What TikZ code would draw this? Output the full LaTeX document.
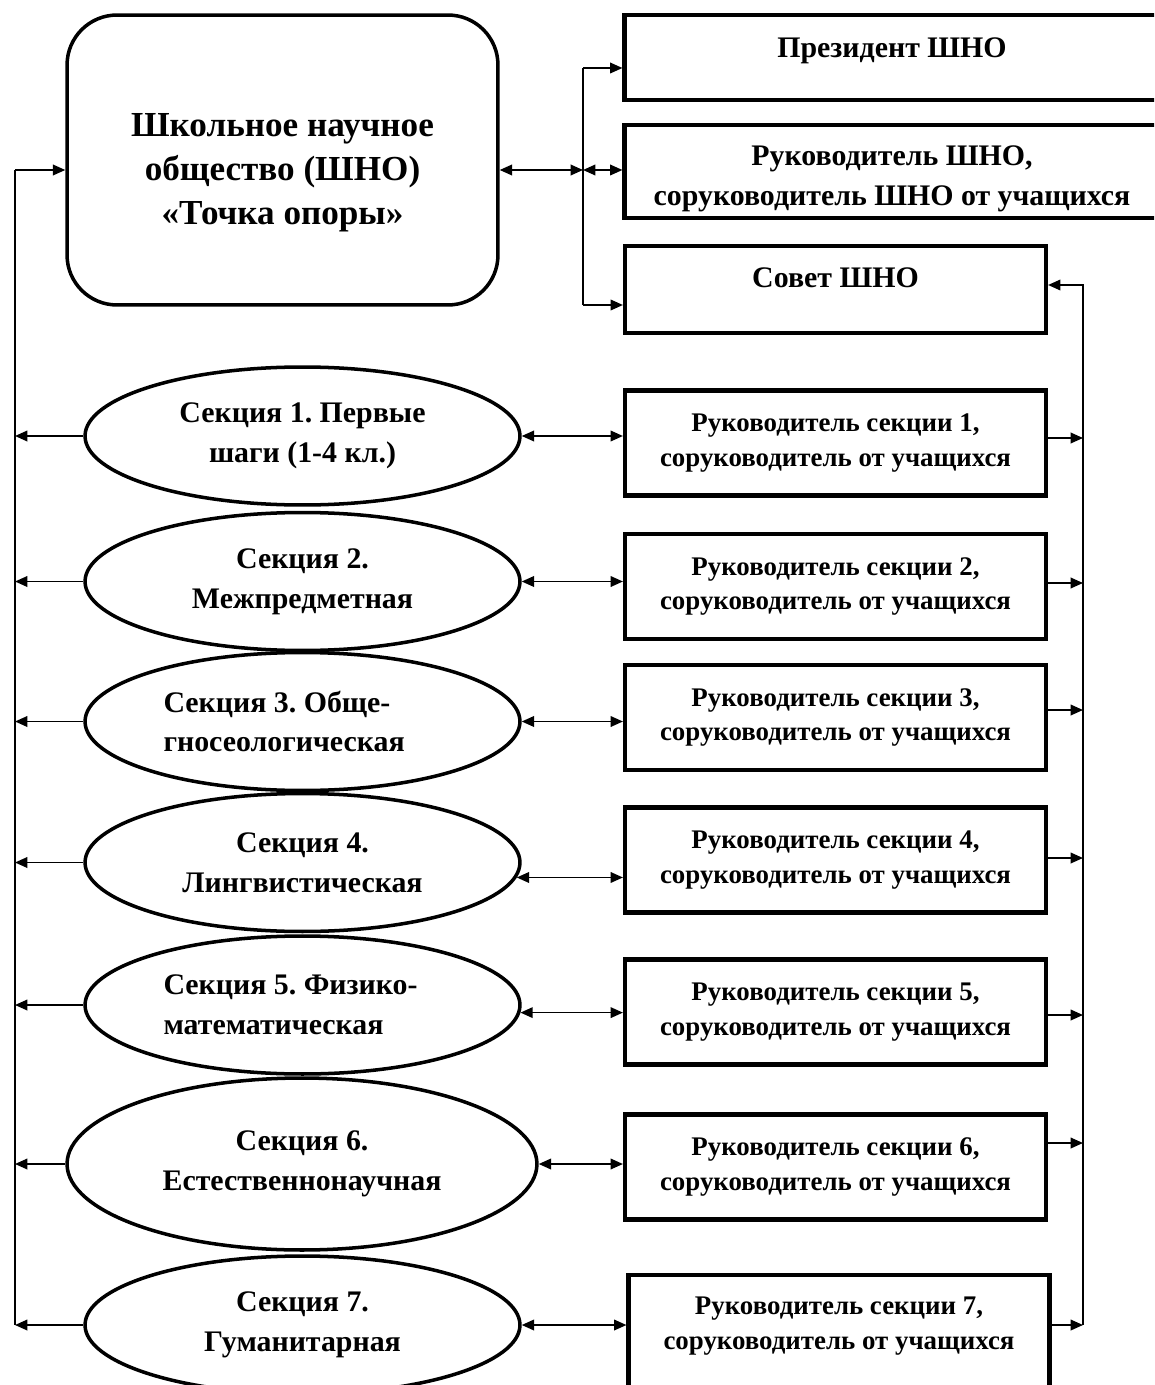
\documentclass[tikz,border=0pt]{standalone}
\usepackage{fontspec}
\setmainfont{Liberation Serif}
\usetikzlibrary{arrows.meta, shapes.geometric, positioning}
\frenchspacing

\begin{document}
\begin{tikzpicture}[x=0.02cm, y=-0.02cm,
    thinline/.style={line width=1pt},
    arr/.style={thinline, -{Triangle[length=7pt,width=6pt]}},
    darr/.style={thinline, {Triangle[length=7pt,width=6pt]}-{Triangle[length=7pt,width=6pt]}},
    shnobox/.style={draw, line width=2pt, rounded corners=1cm, minimum width=8.62cm, minimum height=5.8cm, align=center, font=\bfseries\fontsize{20}{25}\selectfont},
    topbox/.style={draw, line width=2.4pt, minimum width=10.7cm, align=center, font=\bfseries\fontsize{17}{22.7}\selectfont},
    sekbox/.style={draw, line width=2.4pt, minimum width=8.42cm, minimum height=2.1cm, align=center, font=\bfseries\fontsize{15.3}{19.8}\selectfont},
    sek/.style={draw, ellipse, line width=2pt, minimum width=8.7cm, minimum height=2.76cm, inner sep=0pt, align=center, font=\bfseries\fontsize{17}{22.7}\selectfont}]
    \useasboundingbox (0,0) rectangle (1154,1385);
    \clip (0,0) rectangle (1154,1385);

    % верхняя часть
    \node[shnobox, text height=78pt] (shno) at (282.5,160) {Школьное научное\\общество (ШНО)\\«Точка опоры»};
    \node[topbox, minimum height=1.7cm, text depth=11pt] (pres) at (892,57.5) {Президент ШНО};
    \node[topbox, minimum height=1.86cm, text height=42pt] (ruk) at (892,171.5) {Руководитель ШНО,\\соруководитель ШНО от учащихся};
    \node[topbox, minimum width=8.42cm, minimum height=1.74cm, text depth=14pt] (sovet) at (835.5,289.5) {Совет ШНО};

    % секции
    \node[sek] (e1) at (302.5,436) {Секция 1. Первые\\шаги (1-4 кл.)};
    \node[sek] (e2) at (302.5,581.5) {Секция 2.\\Межпредметная};
    \node[sek, align=flush left, text width=5.56cm] (e3) at (302.5,721.5) {Секция 3. Обще-\\гносеологическая};
    \node[sek] (e4) at (302.5,862.5) {Секция 4.\\Лингвистическая};
    \node[sek, align=flush left, text width=5.56cm] (e5) at (302.5,1005) {Секция 5. Физико-\\математическая};
    \node[sek, minimum width=9.4cm, minimum height=3.44cm] (e6) at (302,1164) {Секция 6.\\Естественнонаучная};
    \node[sek] (e7) at (302.5,1325) {Секция 7.\\Гуманитарная};

    \foreach \i/\y in {1/443, 2/586.5, 3/717.5, 4/860, 5/1012, 6/1167}
        \node[sekbox] (b\i) at (835.5,\y) {Руководитель секции \i,\\соруководитель от учащихся};
    \node[sekbox, minimum height=2.4cm, text depth=13.5pt] (b7) at (839,1335) {Руководитель секции 7,\\соруководитель от учащихся};

    % связи
    \coordinate (ltop) at (15,170);
    \coordinate (lbot) at (15,1325);
    \coordinate (hub) at (583,170);
    \coordinate (vtop) at (583,68);
    \coordinate (vbot) at (583,305);
    \coordinate (rtop) at (1083,285);
    \coordinate (rbot) at (1083,1325);

    \draw[thinline] (lbot) -- (ltop);
    \draw[arr] (ltop) -- (ltop -| shno.west);
    \draw[darr] (ltop -| shno.east) -- (hub);
    \draw[thinline] (vtop) -- (vbot);
    \draw[arr] (vtop) -- (vtop -| pres.west);
    \draw[darr] (hub) -- (hub -| ruk.west);
    \draw[arr] (vbot) -- (vbot -| sovet.west);
    \draw[arr] (rbot) -- (rtop) -- (rtop -| sovet.east);

    \foreach \i in {1,...,7}
        \draw[arr] (e\i.west) -- (e\i.west -| ltop);
    \foreach \i/\a in {1/east, 2/east, 3/east, 4/-4, 5/-2, 6/east, 7/east}
        \draw[darr] (e\i.\a) -- (e\i.\a -| b\i.west);
    \foreach \i/\s in {1/0.1, 2/0.07, 3/0.15, 4/0.04, 5/-0.06, 6/0.48, 7/0.2}
        \draw[arr] ([yshift=\s cm]b\i.east) -- ([yshift=\s cm]b\i.east -| rtop);
\end{tikzpicture}
\end{document}
